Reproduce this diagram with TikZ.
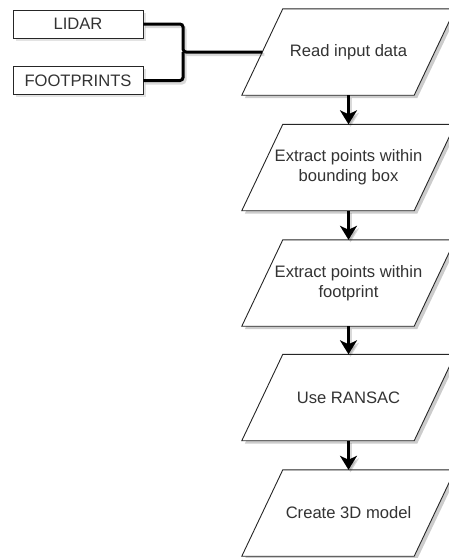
\documentclass[tikz,border=0pt]{standalone}
\usepackage{fontspec}
\setmainfont{Liberation Sans}
\usetikzlibrary{arrows.meta,shadows,backgrounds,calc}
\tikzset{
  txt/.style={text=black!80, font=\fontsize{16.6}{20}\selectfont, align=center, inner sep=0pt},
  pbox/.style={txt, minimum width=172pt, minimum height=86pt},
  inbox/.style={txt, draw=black!85, line width=0.9pt, fill=white, minimum width=130pt, minimum height=28pt,
    drop shadow={shadow xshift=2.5pt, shadow yshift=-2.5pt, opacity=0.22}},
  conn/.style={line width=3pt, black, rounded corners=3pt,
    preaction={draw=black, opacity=0.15, line width=3pt, transform canvas={shift={(2pt,-2.5pt)}}}},
  flow/.style={line width=3pt, black, -{Stealth[length=14pt, width=17pt, inset=4pt]},
    preaction={draw=black, opacity=0.15, line width=3pt, transform canvas={shift={(2pt,-2.5pt)}}}},
  pline/.style={draw=black!85, line width=0.9pt, fill=white},
  pshadow/.style={fill=black, opacity=0.2},
}
\newcommand\pgram[1]{%
  \fill[pshadow] ($(#1.north west)+(23.5,3)$) -- ($(#1.north east)+(23.5,3)$) -- ($(#1.south east)+(-17.5,3)$) -- ($(#1.south west)+(-17.5,3)$) -- cycle;
  \path[pline] ($(#1.north west)+(20.5,0)$) -- ($(#1.north east)+(20.5,0)$) -- ($(#1.south east)+(-20.5,0)$) -- ($(#1.south west)+(-20.5,0)$) -- cycle;
}
\begin{document}
\begin{tikzpicture}[x=1pt,y=-1pt]
\useasboundingbox (0,0) rectangle (449,558);
\node[pbox] (r1) at (348.5,52) {Read input data};
\node[pbox] (r2) at (348.5,167.5) {Extract points within\\bounding box};
\node[pbox] (r3) at (348.5,283) {Extract points within\\footprint};
\node[pbox] (r4) at (348.5,397.5) {Use RANSAC};
\node[pbox] (r5) at (348.5,513) {Create 3D model};
\begin{pgfonlayer}{background}
  \pgram{r1}\pgram{r2}\pgram{r3}\pgram{r4}\pgram{r5}
\end{pgfonlayer}
\node[inbox] (lidar) at (78,24) {LIDAR};
\node[inbox] (foot) at (78,80.5) {FOOTPRINTS};
\coordinate (j) at (183,52);
\draw[conn] (lidar.east) -| (j) -- (r1.west);
\draw[conn] (foot.east) -| (j);
\draw[flow] (r1.south) -- (r2.north);
\draw[flow] (r2.south) -- (r3.north);
\draw[flow] (r3.south) -- (r4.north);
\draw[flow] (r4.south) -- (r5.north);
\end{tikzpicture}
\end{document}
